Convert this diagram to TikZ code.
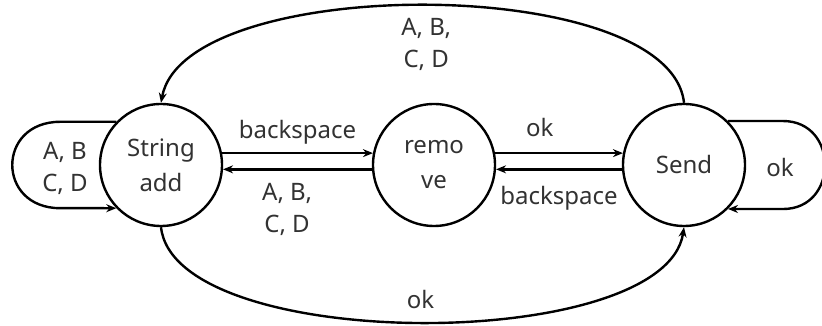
\documentclass[tikz,border=0pt]{standalone}
\usepackage{fontspec}
\setmainfont{Noto Sans}
\usetikzlibrary{arrows.meta}

\begin{document}
\begin{tikzpicture}[x=1pt,y=1pt,
  state/.style={circle,draw=drawColor,line width=2.4pt,minimum size=122pt,inner sep=0pt,
    align=center,text=textColor,font=\fontsize{24}{35}\selectfont},
  trans/.style={draw=drawColor,line width=2.4pt,line join=round,-{Stealth[length=10pt,width=8pt]}},
  lbl/.style={text=textColor,align=center,inner sep=0pt,font=\fontsize{24}{32}\selectfont}]
\definecolor{fillColor}{RGB}{255,255,255}
\definecolor{drawColor}{RGB}{0,0,0}
\definecolor{textColor}{RGB}{50,50,50}
\path[use as bounding box,fill=fillColor] (0,0) rectangle (822,326);

% states
\node[state] (stradd) at (161,161) {String\\add};
\node[state] (remove) at (434,161) {remo\\ve};
\node[state] (send) at (684,161) {Send};

% straight transitions
\path[trans] (stradd.11) -- (remove.169) node[lbl,midway,above=8pt] (lbsp) {backspace};
\path[trans] (remove.184) -- (stradd.356) node[lbl,pos=0.57,below=13pt] (labcd) {A, B,\\C, D};
\path[trans] (remove.11) -- (send.169) node[lbl,pos=0.35,above=15pt] (lok) {ok};
\path[trans] (send.184) -- (remove.356) node[lbl,midway,below=16pt] (lbsp2) {backspace};

% arcs
\path[trans] (send.north) .. controls (670,353) and (185,353) .. (stradd.north)
  node[lbl,midway,below=12pt] (tabcd) {A, B,\\C, D};
\path[trans] (stradd.south) .. controls (175,-28) and (665,-28) .. (send.south)
  node[lbl,midway,above=12pt] (bok) {ok};

% self loops
\path[trans] (stradd.136) -- ++(-56,0) .. controls +(-64,0) and +(-64,0) .. ++(0,-86.4) -- (stradd.224);
\node[lbl] (sabcd) at (65,158) {A, B\\C, D};
\path[trans] (send.45) -- ++(55,0) .. controls +(56,0) and +(56,0) .. ++(0,-88) -- (send.315);
\node[lbl] (sok) at (780,158) {ok};
\end{tikzpicture}
\end{document}
